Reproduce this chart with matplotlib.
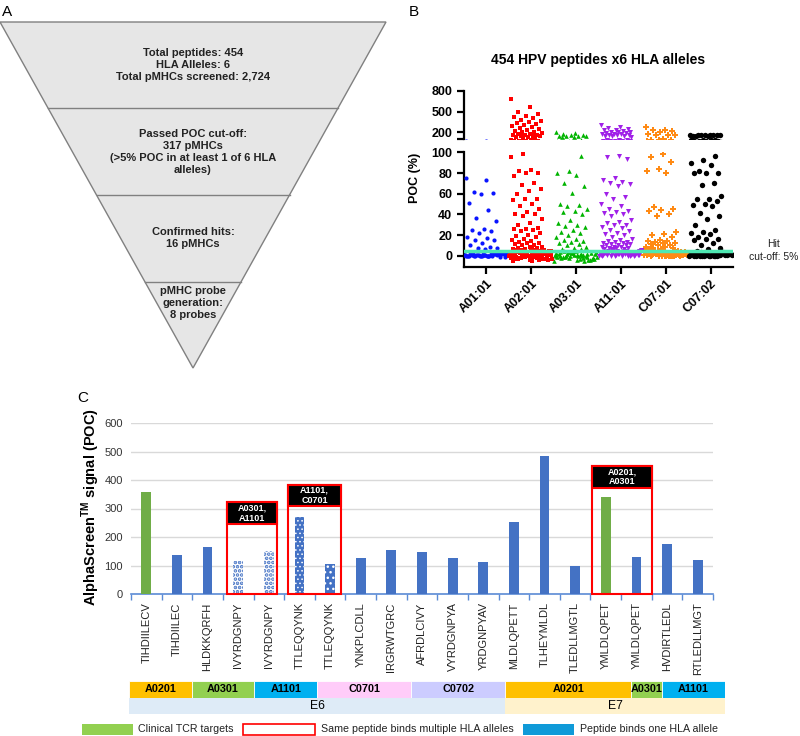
import numpy as np
import matplotlib
matplotlib.use("Agg")
import matplotlib.pyplot as plt
from matplotlib.patches import Polygon, Rectangle

plt.rcParams['font.family'] = ['Liberation Sans', 'DejaVu Sans']
plt.rcParams['mathtext.fontset'] = 'custom'
plt.rcParams['mathtext.rm'] = 'Liberation Sans'
plt.rcParams['mathtext.bf'] = 'Liberation Sans:bold'
plt.rcParams['hatch.linewidth'] = 1.0

# --- data -------------------------------------------------------------

# A: screening funnel
funnel_text = [
    "Total peptides: 454\nHLA Alleles: 6\nTotal pMHCs screened: 2,724",
    "Passed POC cut-off:\n317 pMHCs\n(>5% POC in at least 1 of 6 HLA\nalleles)",
    "Confirmed hits:\n16 pMHCs",
    "pMHC probe\ngeneration:\n8 probes",
]

# B: POC (%) per allele
alleles = ["A01:01", "A02:01", "A03:01", "A11:01", "C07:01", "C07:02"]
poc_a0101 = [75, 73, 62, 61, 60, 51, 44, 37, 34, 26, 25, 24, 22, 18, 17, 15, 15, 12, 10, 9, 8, 8, 7,
             4, 3, 1, 0, 2, 5, 1, 0, 3, 2, 0, 1, 4, 0, 2, 1, 0, 3, 1, 2, 0, 1, -1, 2, 0, 4, 1,
             3, 0, 2, 1, 0, 1, 2, 0, 3, 1, 0, 2, 1, -1, 0, 1, 2, 0, 1, 0]
poc_a0201 = [680, 560, 500, 470, 440, 420, 400, 380, 370, 350, 340, 320, 300, 290, 270, 260, 250,
             230, 220, 210, 200, 190, 180, 170, 165, 160, 155, 150, 150, 145, 140, 140, 135,
             98, 95, 83, 82, 80, 80, 77, 70, 68, 65, 63, 60, 55, 55, 54, 50, 48, 45, 42, 40, 40,
             38, 36, 32, 30, 27, 26, 26, 25, 24, 22, 20, 19, 18, 16, 15, 14, 13, 12, 12, 11, 10,
             10, 9, 9, 8, 8, 7, 7, 7,
             6, 5, 4, 3, 2, 1, 0, -1, -2, -3, -4, -5, 5, 3, 1, -1, -3, 6, 4, 2, 0, -2, -4, 5, 3,
             1, -1, -3, 6, 4, 2, 0, -2, -4, 5, 2, 0, -1, -3, 4, 1, -2, 3, 0, -4, 6, 2, -1, 5, 1,
             -3, 4, 0, -2, 3, -1, 2, -5, 1, 0]
poc_a0301 = [200, 185, 175, 160, 155, 150, 150, 145, 145, 140, 140,
             96, 82, 80, 78, 70, 67, 61, 50, 49, 48, 45, 43, 42, 40, 35, 32, 30, 29, 28, 25, 23,
             22, 20, 18, 16, 15, 14, 13, 12, 11, 10, 9, 8, 7, 7,
             5, 3, 1, 0, -2, -4, 4, 2, 0, -1, -3, 5, 3, 1, -1, -5, 4, 2, 0, -2, -4, 3, 1, 0, -1,
             -3, 5, 2, 0, -2, 4, 1, -1, -4, 3, 0, -2, 2, -3, 1, 0, -1, 4, -5, 2]
poc_a1101 = [300, 280, 260, 250, 240, 230, 220, 210, 200, 200, 190, 185, 180, 175, 170, 165, 160,
             155, 150, 150, 145, 140,
             96, 95, 94, 75, 73, 71, 70, 69, 67, 60, 57, 55, 50, 48, 45, 43, 42, 41, 40, 38, 35,
             33, 32, 30, 30, 28, 27, 25, 24, 22, 21, 20, 18, 16, 15, 14, 13, 13, 12, 12, 11, 11,
             10, 10, 10, 9, 9, 9, 8, 8, 8, 7, 7, 7,
             6, 5, 4, 3, 2, 1, 0, 6, 5, 4, 3, 2, 1, 0, 5, 4, 3, 2, 1, 0, 6, 4, 2, 1, 0, 5, 3, 2,
             0, 1, 4, 3, 1, 0, 6, 2, 5, 1, 3, 0, 4, 2, 1, 0, 3]
poc_c0701 = [270, 240, 230, 215, 200, 180, 165, 160, 155,
             98, 95, 91, 84, 82, 80, 47, 45, 44, 43, 40, 38, 23, 21, 20, 18, 15, 14, 14, 13, 12,
             12, 11, 10, 10, 9, 9, 8, 8, 7, 7,
             6, 5, 4, 3, 2, 1, 0, 5, 3, 2, 1, 0, 4, 3, 2, 1, 0, 6, 4, 2, 1, 0, 3, 2, 1, 0, 5, 2,
             1, 0, 4, 1, 0, 3, 1, 0, 2, 0, 1, 0, 2]
poc_c0702 = [165, 160, 160, 155, 155, 150, 160, 158, 155, 150, 150,
             96, 93, 90, 88, 82, 80, 80, 80, 70, 68, 58, 55, 55, 53, 50, 49, 48, 41, 38, 36, 30,
             25, 23, 22, 21, 18, 16, 16, 15, 12, 10, 8, 7,
             5, 3, 2, 1, 0, 4, 2, 1, 0, 3, 2, 1, 0, 2, 1, 0, 3, 1, 0, 2, 1, 0, 4, 1, 0, 2, 0, 1,
             0, 3, 1, 0, 2, 0, 1]
hit_cutoff = 5

# C: AlphaScreen signal of confirmed hits
peptides = ["TIHDIILECV", "TIHDIILEC", "HLDKKQRFH", "IVYRDGNPY", "IVYRDGNPY", "TTLEQQYNK",
            "TTLEQQYNK", "YNKPLCDLL", "IRGRWTGRC", "AFRDLCIVY", "VYRDGNPYA", "YRDGNPYAV",
            "MLDLQPETT", "TLHEYMLDL", "TLEDLLMGTL", "YMLDLQPET", "YMLDLQPET", "HVDIRTLEDL",
            "RTLEDLLMGT"]
signal = [357, 137, 165, 116, 151, 271, 107, 128, 153, 148, 127, 113, 254, 484, 100, 340, 129,
          176, 120]
clinical = [0, 15]
multi_groups = [(3, 4, "A0301,\nA1101"), (5, 6, "A1101,\nC0701"), (15, 16, "A0201,\nA0301")]
hla_names = ["A0201", "A0301", "A1101", "C0701", "C0702", "A0201", "A0301", "A1101"]
hla_counts = [2, 2, 2, 3, 3, 4, 1, 2]
protein_names = ["E6", "E7"]
protein_counts = [12, 7]

# --- layout helpers ---------------------------------------------------
W, H = 800, 736


def box(x0, y0, x1, y1):
    return [x0 / W, 1 - y1 / H, (x1 - x0) / W, (y1 - y0) / H]


fig = plt.figure(figsize=(8, 7.36), dpi=100)

# overlay in pixel coordinates (panel A, labels, legend)
ov = fig.add_axes([0, 0, 1, 1])
ov.set_xlim(0, W)
ov.set_ylim(H, 0)
ov.axis("off")

# --- A: funnel --------------------------------------------------------
top_y, apex_y, left_x, right_x = 22, 368, 0, 386
mid_x = (left_x + right_x) / 2
ov.add_patch(Polygon([(left_x, top_y), (right_x, top_y), (mid_x, apex_y)], closed=True,
                     facecolor="#e6e6e6", edgecolor="#808080", lw=1))
for y in [108, 195, 282]:
    half = (right_x - left_x) / 2 * (apex_y - y) / (apex_y - top_y)
    ov.plot([mid_x - half, mid_x + half], [y, y], color="#808080", lw=1)
for txt, yc in zip(funnel_text, [65, 152, 238, 303]):
    ov.text(mid_x, yc, txt, ha="center", va="center", fontsize=8, fontweight="bold",
            color="#222222", linespacing=1.25)

ov.text(2, 12, "A", fontsize=11, va="center", ha="left")
ov.text(409, 12, "B", fontsize=11, va="center", ha="left")
ov.text(77, 398, "C", fontsize=11, va="center", ha="left")

# --- B: scatter with broken axis --------------------------------------
ax_top = fig.add_axes(box(464, 90.7, 733, 139.3))
ax_bot = fig.add_axes(box(464, 152.3, 733, 266.7))

series = [poc_a0101, poc_a0201, poc_a0301, poc_a1101, poc_c0701, poc_c0702]
colors = ["#0a14ff", "#ff0000", "#00b400", "#a020e8", "#ff8a14", "#000000"]
markers = ["o", "s", "^", "v", "P", "o"]
sizes = [9, 12, 11, 13, 14, 15]
golden = 0.6180339887
for i, vals in enumerate(series):
    vals = np.asarray(vals, float)
    frac = (np.arange(len(vals)) * golden) % 1
    offs = np.where(vals <= 6, -0.5 + 0.98 * frac, -0.45 + 0.7 * frac)
    for ax in (ax_top, ax_bot):
        ax.scatter(i + offs, vals, s=sizes[i], c=colors[i], marker=markers[i],
                   linewidths=0, zorder=3)

for ax in (ax_top, ax_bot):
    ax.set_xlim(-0.5, 5.5)
    for s in ("top", "right"):
        ax.spines[s].set_visible(False)
    ax.spines["left"].set_linewidth(1.6)
    ax.tick_params(axis="y", width=1.6, length=5, labelsize=9)

ax_top.set_ylim(100, 800)
ax_top.set_yticks([100, 200, 500, 800])
ax_top.set_yticklabels(["", "200", "500", "800"], fontweight="bold", fontsize=9)
ax_top.spines["bottom"].set_visible(False)
ax_top.set_xticks([])
ax_top.set_title("454 HPV peptides x6 HLA alleles", fontsize=10, fontweight="bold", pad=19)

ax_bot.set_ylim(-10.5, 100)
ax_bot.set_yticks(range(0, 101, 20))
ax_bot.set_yticklabels([str(v) for v in range(0, 101, 20)], fontweight="bold", fontsize=9)
ax_bot.spines["bottom"].set_linewidth(1.6)
ax_bot.set_xticks(range(len(alleles)))
ax_bot.set_xticklabels(alleles, rotation=45, ha="right", rotation_mode="anchor",
                       fontweight="bold", fontsize=9)
ax_bot.tick_params(axis="x", width=1.6, length=5, pad=3)
ax_bot.axhline(hit_cutoff, color="#4ee8b2", lw=2.5, zorder=5)

fig.text(415 / W, 1 - 178 / H, "POC (%)", rotation=90, ha="center", va="center",
         fontsize=9, fontweight="bold")
ov.text(774, 244, "Hit", ha="center", va="center", fontsize=7.5, color="#222222")
ov.text(774, 257, "cut-off: 5%", ha="center", va="center", fontsize=7.5, color="#222222")

# --- C: bar chart -----------------------------------------------------
ax_c = fig.add_axes(box(131, 423, 713, 594))
blue, green = "#4472c4", "#70ad47"
x = np.arange(len(peptides))
# (face, hatch colour, hatch, hatch linewidth)
hatch_style = {3: ("white", blue, "....", 1.8), 4: ("white", blue, "....", 1.8),
               5: (blue, "white", "....", 0.6), 6: (blue, "white", "...", 1.0)}
for i, v in enumerate(signal):
    if i in hatch_style:
        fc, ec, h, hlw = hatch_style[i]
        bars = ax_c.bar(x[i], v, width=0.32, color=fc, edgecolor=ec, hatch=h, lw=0, zorder=3)
        for b in bars:
            try:
                b.set_hatch_linewidth(hlw)
            except AttributeError:
                pass
    else:
        ax_c.bar(x[i], v, width=0.32, color=green if i in clinical else blue, zorder=3)

# red boxes: (left, right, box top, label bottom) in data units
box_geom = [(2.64, 4.27, 323, 245), (4.63, 6.36, 382, 309), (14.54, 16.52, 450, 373)]
for (i0, i1, label), (bx0, bx1, btop, lbot) in zip(multi_groups, box_geom):
    ax_c.add_patch(Rectangle((bx0, 0), bx1 - bx0, btop, fill=False, edgecolor="#ff0000",
                             lw=1.5, zorder=4, clip_on=False))
    ax_c.add_patch(Rectangle((bx0, lbot), bx1 - bx0, btop - lbot, facecolor="black",
                             edgecolor="#ff0000", lw=1.5, zorder=5, clip_on=False))
    ax_c.text((bx0 + bx1) / 2, (lbot + btop) / 2, label, color="white", fontsize=6.5,
              fontweight="bold", ha="center", va="center", zorder=6, linespacing=1.2)

ax_c.set_xlim(-0.5, len(peptides) - 0.5)
ax_c.set_ylim(0, 600)
ax_c.set_yticks(range(0, 601, 100))
ax_c.yaxis.grid(True, color="#d9d9d9", lw=1)
ax_c.set_axisbelow(True)
for s in ("top", "right", "left"):
    ax_c.spines[s].set_visible(False)
ax_c.spines["bottom"].set_color("#5b8bd6")
ax_c.spines["bottom"].set_linewidth(1.2)
ax_c.set_xticks(x)
ax_c.set_xticklabels(peptides, rotation=90, fontsize=8, color="#222222")
ax_c.set_xticks(np.arange(-0.5, len(peptides), 1), minor=True)
ax_c.tick_params(axis="x", which="major", length=0, pad=6)
ax_c.tick_params(axis="x", which="minor", length=4, color="#5b8bd6", width=1)
ax_c.tick_params(axis="y", length=0, labelsize=8, labelcolor="#333333", pad=6)
fig.text(91 / W, 1 - 507 / H, r"AlphaScreen$^{\mathbf{TM}}$ signal (POC)", rotation=90,
         ha="center", va="center", fontsize=10.5, fontweight="bold")

# HLA / protein bands
ax_b = fig.add_axes(box(129, 681, 725, 714))
ax_b.set_xlim(0, sum(hla_counts))
ax_b.set_ylim(2, 0)
ax_b.axis("off")
hla_colors = {"A0201": "#ffc000", "A0301": "#92d050", "A1101": "#00b0f0",
              "C0701": "#ffccf9", "C0702": "#ccccff"}
start = 0
for name, n in zip(hla_names, hla_counts):
    ax_b.add_patch(Rectangle((start, 0), n, 1, facecolor=hla_colors[name], edgecolor="white",
                             lw=0.6))
    ax_b.text(start + n / 2, 0.5, name, ha="center", va="center", fontsize=7.8,
              fontweight="bold")
    start += n
prot_colors = {"E6": "#deebf7", "E7": "#fff2cc"}
start = 0
for name, n in zip(protein_names, protein_counts):
    ax_b.add_patch(Rectangle((start, 1), n, 1, facecolor=prot_colors[name], edgecolor="none"))
    ax_b.text(start + n / 2, 1.5, name, ha="center", va="center", fontsize=8.8)
    start += n

# legend
ly0, ly1 = 724, 735
ov.add_patch(Rectangle((82, ly0), 51, ly1 - ly0, facecolor="#92d050", edgecolor="none"))
ov.text(138, (ly0 + ly1) / 2, "Clinical TCR targets", va="center", fontsize=7.7, color="#222222")
ov.add_patch(Rectangle((243, ly0), 72, ly1 - ly0, facecolor="white", edgecolor="#ff0000", lw=1.2))
ov.text(321, (ly0 + ly1) / 2, "Same peptide binds multiple HLA alleles", va="center",
        fontsize=7.7, color="#222222")
ov.add_patch(Rectangle((523, ly0), 51, ly1 - ly0, facecolor="#0f9ad8", edgecolor="none"))
ov.text(580, (ly0 + ly1) / 2, "Peptide binds one HLA allele", va="center", fontsize=7.7,
        color="#222222")

fig.savefig("out.png", dpi=100)
